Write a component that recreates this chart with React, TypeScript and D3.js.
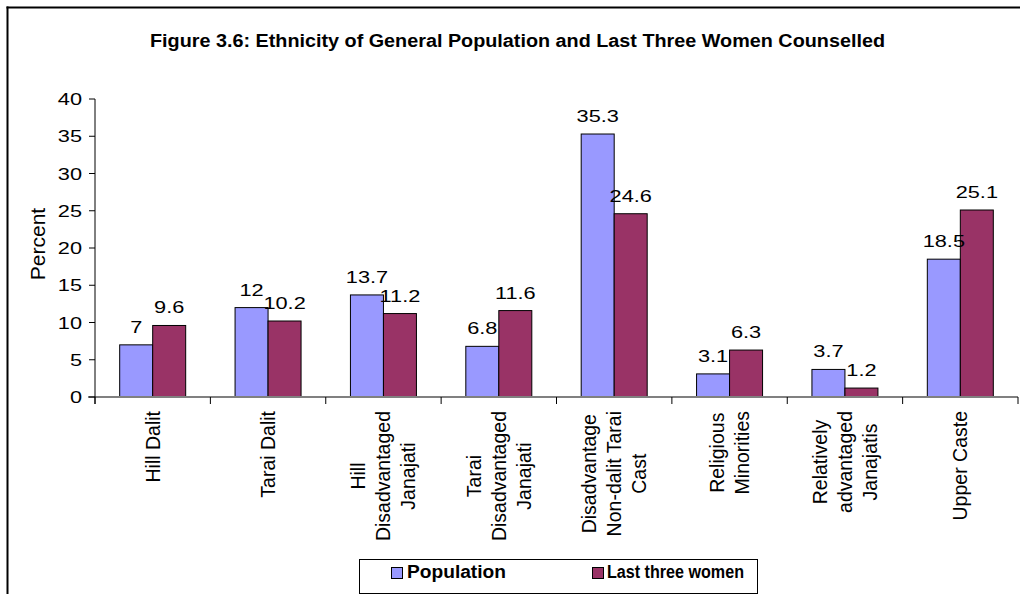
import React, { useEffect, useRef } from 'react';
import * as d3 from 'd3';

const categories = [
  ['Hill Dalit'],
  ['Tarai Dalit'],
  ['Hill', 'Disadvantaged', 'Janajati'],
  ['Tarai', 'Disadvantaged', 'Janajati'],
  ['Disadvantage', 'Non-dalit Tarai', 'Cast'],
  ['Religious', 'Minorities'],
  ['Relatively', 'advantaged', 'Janajatis'],
  ['Upper Caste'],
];
const population = [7, 12, 13.7, 6.8, 35.3, 3.1, 3.7, 18.5];
const lastThree = [9.6, 10.2, 11.2, 11.6, 24.6, 6.3, 1.2, 25.1];
const seriesNames = ['Population', 'Last three women'];
const seriesColors = ['#9999FF', '#993366'];
const yTicks = [0, 5, 10, 15, 20, 25, 30, 35, 40];

const W = 1020;
const H = 594;
const FONT = '"Liberation Sans", Arial, sans-serif';
const SX = 1.28; // horizontal stretch of the flat text
const FS = 17;

function App() {
  const ref = useRef<SVGSVGElement>(null);

  useEffect(() => {
    const svg = d3.select(ref.current);
    svg.selectAll('*').remove();

    const left = 95, right = 1018, top = 99, bottom = 397;
    const keys = categories.map((c) => c.join(' '));

    const x0 = d3.scaleBand<string>().domain(keys).range([left, right]).padding(0);
    const step = x0.step();
    const x1 = d3.scaleBand<string>().domain(seriesNames)
      .range([step * 0.214, step * 0.786]).padding(0);
    const y = d3.scaleLinear().domain([0, 40]).range([bottom, top]);

    // frame (top + left only)
    svg.append('line').attr('x1', 6.5).attr('x2', W).attr('y1', 7.5).attr('y2', 7.5)
      .attr('stroke', '#000').attr('stroke-width', 2);
    svg.append('line').attr('x1', 7.5).attr('x2', 7.5).attr('y1', 6.5).attr('y2', H)
      .attr('stroke', '#000').attr('stroke-width', 2);

    // title
    svg.append('text')
      .attr('x', 150).attr('y', 47)
      .attr('font-family', FONT).attr('font-size', 18).attr('font-weight', 'bold')
      .attr('textLength', 735).attr('lengthAdjust', 'spacingAndGlyphs')
      .text('Figure 3.6: Ethnicity of General Population and Last Three Women Counselled');

    // bars
    const data = keys.map((k, i) => ({ key: k, values: [population[i], lastThree[i]] }));
    const groups = svg.append('g').selectAll('g').data(data).join('g')
      .attr('transform', (d) => `translate(${x0(d.key)},0)`);

    groups.selectAll('rect')
      .data((d) => d.values.map((v, j) => ({ v, s: seriesNames[j], c: seriesColors[j] })))
      .join('rect')
      .attr('x', (d) => x1(d.s)!)
      .attr('y', (d) => y(d.v))
      .attr('width', x1.bandwidth())
      .attr('height', (d) => y(0) - y(d.v))
      .attr('fill', (d) => d.c)
      .attr('stroke', '#000')
      .attr('stroke-width', 1);

    groups.selectAll('text.val')
      .data((d) => d.values.map((v, j) => ({ v, s: seriesNames[j] })))
      .join('text')
      .attr('class', 'val')
      .attr('transform', (d) =>
        `translate(${x1(d.s)! + x1.bandwidth() / 2},${y(d.v) - 12}) scale(${SX},1)`)
      .attr('text-anchor', 'middle')
      .attr('font-family', FONT).attr('font-size', FS)
      .text((d) => String(d.v));

    // x axis
    svg.append('line').attr('x1', 88).attr('x2', right).attr('y1', bottom).attr('y2', bottom)
      .attr('stroke', '#808080').attr('stroke-width', 2);
    const bounds = d3.range(keys.length + 1).map((i) => left + i * step);
    svg.append('g').selectAll('line').data(bounds).join('line')
      .attr('x1', (d) => d).attr('x2', (d) => d)
      .attr('y1', bottom).attr('y2', bottom + 7)
      .attr('stroke', '#000').attr('stroke-width', 1);

    // y axis
    svg.append('line').attr('x1', left).attr('x2', left).attr('y1', top).attr('y2', bottom + 7)
      .attr('stroke', '#000').attr('stroke-width', 1);
    const yt = svg.append('g');
    yt.selectAll('line').data(yTicks).join('line')
      .attr('x1', left - 6).attr('x2', left)
      .attr('y1', (d) => y(d)).attr('y2', (d) => y(d))
      .attr('stroke', '#000').attr('stroke-width', 1);
    yt.selectAll('text').data(yTicks).join('text')
      .attr('transform', (d) => `translate(82,${y(d)}) scale(${SX},1)`)
      .attr('dy', '0.36em')
      .attr('text-anchor', 'end')
      .attr('font-family', FONT).attr('font-size', FS)
      .text((d) => String(d));

    svg.append('text')
      .attr('transform', 'translate(37.5,244) rotate(-90)')
      .attr('text-anchor', 'middle').attr('dy', '0.36em')
      .attr('font-family', FONT).attr('font-size', 21)
      .text('Percent');

    // category labels, rotated
    const labelTop = 411;
    const lineGap = 25;
    categories.forEach((lines, i) => {
      const cx = x0(keys[i])! + step / 2;
      const g = svg.append('g');
      const texts = lines.map((ln) =>
        g.append('text')
          .attr('font-family', FONT).attr('font-size', 19.5)
          .attr('text-anchor', 'middle').attr('dy', '0.36em')
          .text(ln));
      const maxLen = d3.max(texts, (t) => (t.node() as SVGTextElement).getComputedTextLength()) || 0;
      const cy = labelTop + maxLen / 2;
      texts.forEach((t, j) => {
        const lx = cx + (j - (lines.length - 1) / 2) * lineGap;
        t.attr('transform', `translate(${lx},${cy}) rotate(-90)`);
      });
    });

    // legend
    const lg = svg.append('g');
    lg.append('rect').attr('x', 359.5).attr('y', 559.5).attr('width', 398).attr('height', 34)
      .attr('fill', '#fff').attr('stroke', '#000').attr('stroke-width', 1);
    const legendItems = [
      { x: 391, tx: 407, len: 99 },
      { x: 592, tx: 607, len: 137 },
    ];
    legendItems.forEach((it, i) => {
      lg.append('rect').attr('x', it.x + 0.5).attr('y', 567.5).attr('width', 11).attr('height', 11)
        .attr('fill', seriesColors[i]).attr('stroke', '#000').attr('stroke-width', 1);
      lg.append('text').attr('x', it.tx).attr('y', 578)
        .attr('font-family', FONT).attr('font-size', 18).attr('font-weight', 'bold')
        .attr('textLength', it.len).attr('lengthAdjust', 'spacingAndGlyphs')
        .text(seriesNames[i]);
    });
  }, []);

  return (
    <svg
      ref={ref}
      width={W}
      height={H}
      style={{ position: 'absolute', left: 0, top: 0, background: '#fff' }}
    />
  );
}

export default App;
